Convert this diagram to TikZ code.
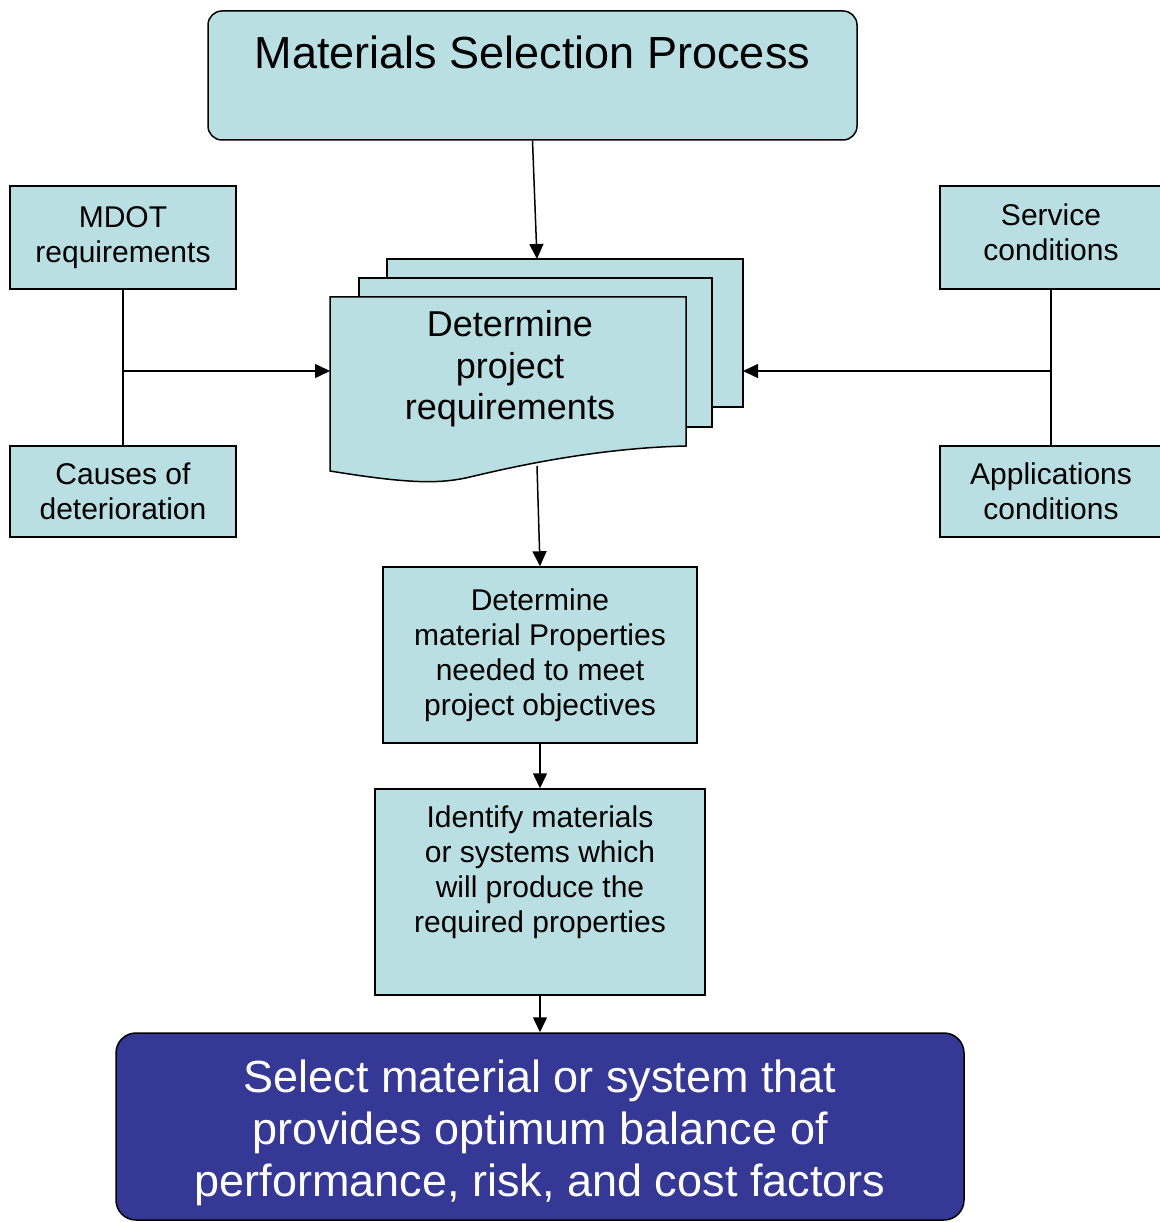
\documentclass[tikz,border=0pt]{standalone}
\usepackage{fontspec}
\setmainfont{Liberation Sans}
\usetikzlibrary{arrows.meta}
\definecolor{paleteal}{HTML}{B9DFE2}
\definecolor{deepblue}{HTML}{363895}

\tikzstyle{box}=[draw,line width=1.5pt,fill=paleteal,align=center,inner sep=0pt,font=\fontsize{30}{35}\selectfont]
\tikzstyle{sheet}=[draw,line width=1.5pt,fill=paleteal]
\tikzstyle{link}=[draw,line width=1.5pt,-]
\tikzstyle{flow}=[draw,line width=1.5pt,-{Triangle[length=15pt,width=14pt]}]

\begin{document}
\begin{tikzpicture}[x=1pt,y=-1pt]
\useasboundingbox (0,0) rectangle (1159,1222);
		% heading and the final choice
		\node[box,rounded corners=14pt,minimum width=649pt,minimum height=129pt,font=\fontsize{45}{52}\selectfont] (title) at (532.5,75.5) {Materials Selection Process\\[-20pt] \strut};
		\node[box,rounded corners=20pt,minimum width=848pt,minimum height=187pt,fill=deepblue] (select) at (540,1126.5) {};
		\node[text=white,align=center,font=\fontsize{45}{52}\selectfont] (selectText) at ([yshift=-6pt]select.center) {Select material or system that\\provides optimum balance of\\performance, risk, and cost factors};
		% inputs on both sides
		\node[box,minimum width=226pt,minimum height=103pt] (mdot) at (123,237.5) {MDOT\\requirements};
		\node[box,minimum width=226pt,minimum height=91pt] (causes) at (123,491.5) {Causes of\\deterioration};
		\node[box,minimum width=222pt,minimum height=103pt] (service) at (1051,237.5) {Service\\conditions\strut};
		\node[box,minimum width=222pt,minimum height=91pt] (appl) at (1051,491.5) {Applications\\conditions};
		% steps down the middle
		\node[box,minimum width=314pt,minimum height=176pt] (props) at (540,655) {Determine\\material Properties\\needed to meet\\project objectives};
		\node[box,minimum width=330pt,minimum height=206pt] (identify) at (540,892) {Identify materials\\or systems which\\will produce the\\required properties\\ \strut};
		% stack of documents
		\path[sheet] (387,259) rectangle (743,407);
		\path[sheet] (359,278) rectangle (712,427);
		\path[sheet] (330,297) -- (686,297) -- (686,446)
			.. controls (600,448) and (520,465) .. (470,477)
			.. controls (440,484) and (410,484) .. (330,471) -- cycle;
		\node[align=center,font=\fontsize{36}{41.5}\selectfont] (req) at (510,369) {Determine\\project\\requirements};
		\coordinate (stackTop) at (537,259);
		\coordinate (stackFoot) at (537,466);
		\coordinate (stackL) at (330,371);
		\coordinate (stackR) at (743,371);
		\coordinate (lj) at (123,371);
		\coordinate (rj) at (1051,371);
		% connect the boxes
		\path[link] (mdot) -- (causes);
		\path[link] (service) -- (appl);
		\foreach \source/ \dest in {title.south/stackTop, lj/stackL, rj/stackR, stackFoot/props.north, props/identify, identify/select}
		\path[flow] (\source) -- (\dest);
\end{tikzpicture}
\end{document}
